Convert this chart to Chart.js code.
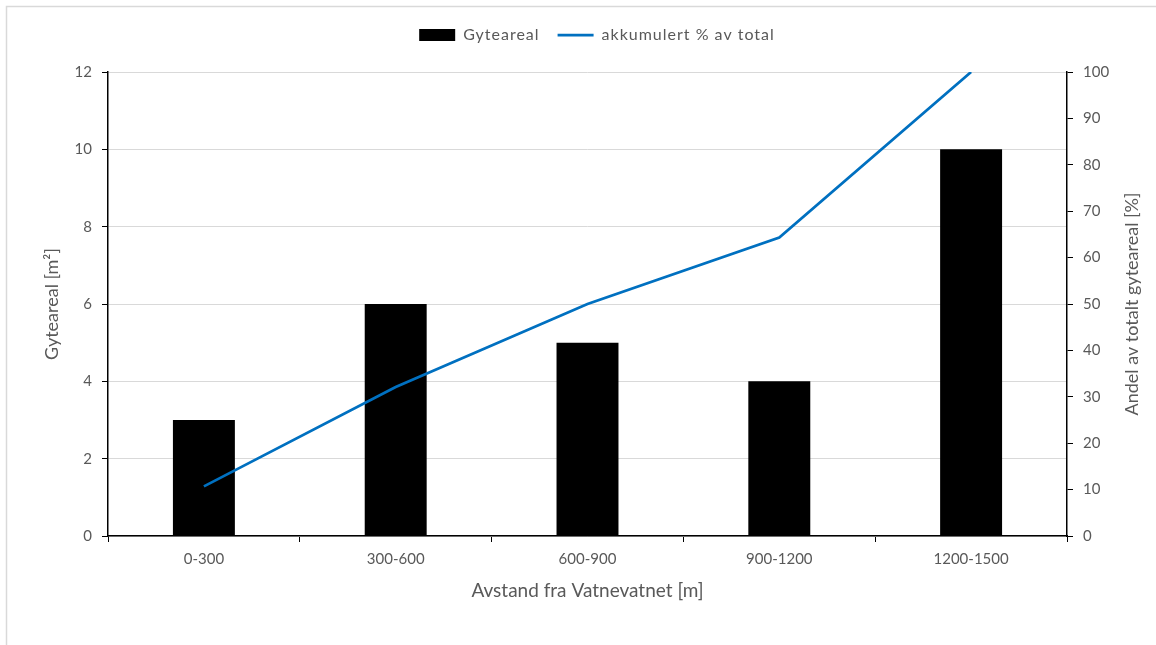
<!DOCTYPE html>
<html>
<head>
<meta charset="utf-8">
<script src="https://cdn.jsdelivr.net/npm/chart.js@4/dist/chart.umd.min.js"></script>
<style>
  html, body { margin: 0; padding: 0; background: #ffffff; }
  #wrap { width: 1156px; height: 645px; position: relative; }
</style>
</head>
<body>
<div id="wrap"><canvas id="chart" width="1156" height="645"></canvas></div>
<script>
// Spawning area by distance from Vatnevatnet
const categories = ['0-300', '300-600', '600-900', '900-1200', '1200-1500'];
const gyteareal = [3, 6, 5, 4, 10];
const akkumulertProsent = [10.7, 32.1, 50.0, 64.3, 100];

const leftTicks = [0, 2, 4, 6, 8, 10, 12];
const rightTicks = [0, 10, 20, 30, 40, 50, 60, 70, 80, 90, 100];

const FONT = 'Lato, "Noto Sans", sans-serif';
const TEXT = '#595959';
const GRID = '#d9d9d9';

// Frame around the chart and the right-hand axis title (reads bottom-to-top)
const framePlugin = {
  id: 'frame',
  beforeDraw(chart) {
    const ctx = chart.ctx;
    ctx.save();
    ctx.strokeStyle = GRID;
    ctx.lineWidth = 1.5;
    ctx.beginPath();
    ctx.moveTo(6.5, chart.height);
    ctx.lineTo(6.5, 6.5);
    ctx.lineTo(chart.width, 6.5);
    ctx.stroke();
    ctx.restore();
  },
  afterDraw(chart) {
    const ctx = chart.ctx;
    const area = chart.chartArea;
    ctx.save();
    ctx.translate(1132, (area.top + area.bottom) / 2);
    ctx.rotate(-Math.PI / 2);
    ctx.fillStyle = TEXT;
    ctx.font = '18px ' + FONT;
    ctx.textAlign = 'center';
    ctx.textBaseline = 'middle';
    ctx.fillText('Andel av totalt gyteareal [%]', 0, 0);
    ctx.restore();
  }
};

// Fixed band for the legend above the plot area, centred over the plot,
// with loosely spaced legend text
const legendBand = {
  id: 'legendBand',
  beforeLayout(chart) {
    const lg = chart.legend;
    if (lg && !lg.__banded) {
      const fit = lg.fit.bind(lg);
      const draw = lg.draw.bind(lg);
      lg.fit = function () {
        this.ctx.letterSpacing = '1px';
        fit();
        this.ctx.letterSpacing = '0px';
        this.height = 63;
      };
      lg.draw = function () {
        const ctx = this.ctx;
        ctx.save();
        ctx.letterSpacing = '1px';
        ctx.translate(19, 0);
        draw();
        ctx.restore();
        ctx.letterSpacing = '0px';
      };
      lg.__banded = true;
    }
  }
};

new Chart(document.getElementById('chart'), {
  data: {
    labels: categories,
    datasets: [
      {
        type: 'bar',
        label: 'Gyteareal',
        data: gyteareal,
        backgroundColor: '#000000',
        borderWidth: 0,
        barPercentage: 0.323,
        categoryPercentage: 1,
        yAxisID: 'y',
        order: 2,
        pointStyle: 'rect'
      },
      {
        type: 'line',
        label: 'akkumulert % av total',
        data: akkumulertProsent,
        borderColor: '#0070C0',
        backgroundColor: '#0070C0',
        borderWidth: 2.75,
        pointRadius: 0,
        tension: 0,
        fill: false,
        yAxisID: 'y2',
        order: 1,
        pointStyle: 'line'
      }
    ]
  },
  options: {
    responsive: false,
    animation: false,
    layout: { padding: { top: 9, left: 0, right: 0, bottom: 0 } },
    plugins: {
      tooltip: { enabled: false },
      legend: {
        position: 'top',
        align: 'center',
        labels: {
          usePointStyle: true,
          pointStyleWidth: 36,
          boxHeight: 12,
          padding: 18,
          color: TEXT,
          font: { family: FONT, size: 16 },
          sort: (a, b) => a.datasetIndex - b.datasetIndex
        }
      }
    },
    scales: {
      x: {
        type: 'category',
        offset: true,
        afterFit: (s) => { s.height = 109; },
        grid: {
          offset: true,
          drawOnChartArea: false,
          drawTicks: true,
          tickLength: 6,
          color: '#000000',
          lineWidth: 1
        },
        border: { display: true, color: '#000000', width: 1.5 },
        ticks: { color: TEXT, padding: 8, font: { family: FONT, size: 15 }, maxRotation: 0 },
        title: {
          display: true,
          text: 'Avstand fra Vatnevatnet [m]',
          color: TEXT,
          font: { family: FONT, size: 19 },
          padding: { top: 0, bottom: 43 }
        }
      },
      y: {
        position: 'left',
        min: 0,
        max: 12,
        afterFit: (s) => { s.width = 108; },
        afterBuildTicks: (s) => { s.ticks = leftTicks.map(v => ({ value: v })); },
        grid: {
          color: GRID,
          lineWidth: 1,
          drawTicks: true,
          tickLength: 6,
          tickColor: '#000000'
        },
        border: { display: true, color: '#000000', width: 1.5 },
        ticks: { color: TEXT, padding: 10, font: { family: FONT, size: 15 } },
        title: {
          display: true,
          text: 'Gyteareal [m²]',
          color: TEXT,
          font: { family: FONT, size: 18 },
          padding: { top: 41, bottom: 0 }
        }
      },
      y2: {
        position: 'right',
        min: 0,
        max: 100,
        afterFit: (s) => { s.width = 89; },
        afterBuildTicks: (s) => { s.ticks = rightTicks.map(v => ({ value: v })); },
        grid: {
          drawOnChartArea: false,
          drawTicks: true,
          tickLength: 6,
          color: '#000000'
        },
        border: { display: true, color: '#000000', width: 1.5 },
        ticks: { color: TEXT, padding: 10, font: { family: FONT, size: 15 } }
      }
    }
  },
  plugins: [framePlugin, legendBand]
});
</script>
</body>
</html>
